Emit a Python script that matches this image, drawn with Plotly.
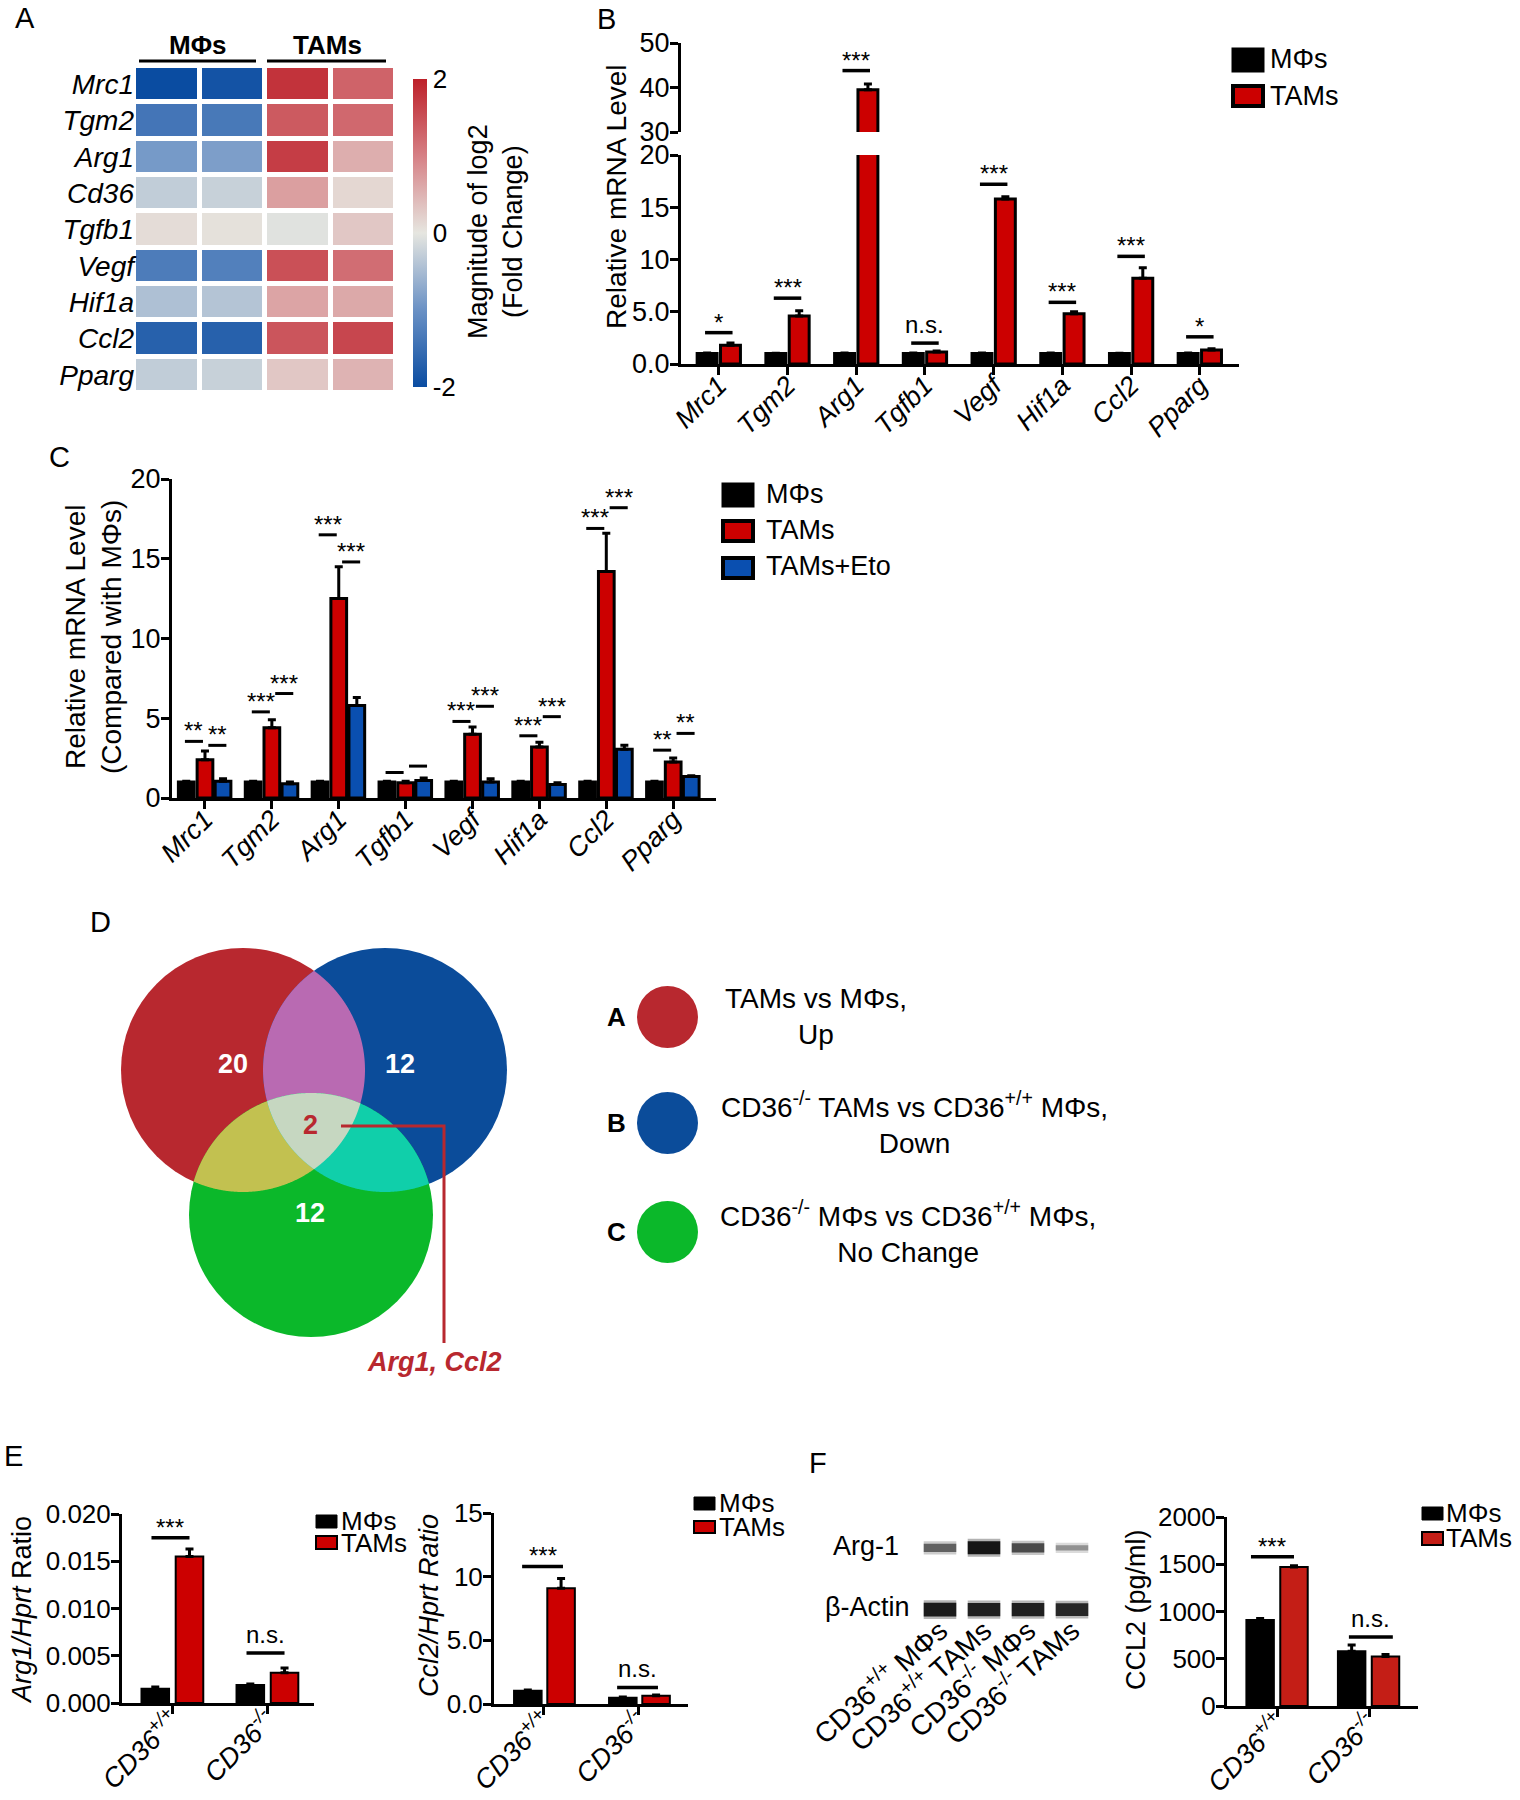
import numpy as np
import plotly.graph_objects as go

W, H = 1520, 1800
FONT = "Liberation Sans, Arial, Helvetica, sans-serif"

# ------------------------------------------------------------------ data
# A: heatmap (log2 fold change)
heat_genes = ["Mrc1", "Tgm2", "Arg1", "Cd36", "Tgfb1", "Vegf", "Hif1a", "Ccl2", "Pparg"]
heat_mphi_1 = [-2.0, -1.4, -0.9, -0.3, 0.1, -1.3, -0.45, -1.7, -0.3]
heat_mphi_2 = [-1.9, -1.35, -0.85, -0.25, 0.05, -1.25, -0.4, -1.7, -0.25]
heat_tam_1 = [1.8, 1.4, 1.7, 0.7, -0.05, 1.5, 0.65, 1.45, 0.3]
heat_tam_2 = [1.3, 1.25, 0.55, 0.15, 0.3, 1.2, 0.6, 1.6, 0.5]

# B: qPCR MΦs vs TAMs
genes_b = ["Mrc1", "Tgm2", "Arg1", "Tgfb1", "Vegf", "Hif1a", "Ccl2", "Pparg"]
b_mphi = [1.0, 1.0, 1.0, 1.0, 1.0, 1.0, 1.0, 1.0]
b_mphi_err = [0.05, 0.03, 0.05, 0.05, 0.05, 0.05, 0.03, 0.05]
b_tam = [1.8, 4.6, 39.5, 1.15, 15.8, 4.8, 8.2, 1.35]
b_tam_err = [0.2, 0.5, 1.3, 0.1, 0.2, 0.2, 1.0, 0.1]
b_sig = ["*", "***", "***", "n.s.", "***", "***", "***", "*"]
b_sig_y = [3.0, 6.3, 43.8, 2.0, 17.2, 5.9, 10.3, 2.6]

# C: qPCR with etomoxir
c_mphi = [1.0, 1.0, 1.0, 1.0, 1.0, 1.0, 1.0, 1.0]
c_mphi_err = [0.05, 0.05, 0.05, 0.05, 0.05, 0.05, 0.05, 0.05]
c_tam = [2.4, 4.4, 12.5, 0.95, 4.0, 3.2, 14.2, 2.25]
c_tam_err = [0.55, 0.5, 2.0, 0.1, 0.45, 0.3, 2.4, 0.25]
c_eto = [1.05, 0.9, 5.8, 1.1, 1.0, 0.85, 3.05, 1.35]
c_eto_err = [0.15, 0.1, 0.5, 0.15, 0.2, 0.1, 0.25, 0.05]
c_sig_mt = ["**", "***", "***", "", "***", "***", "***", "**"]
c_sig_mt_y = [3.55, 5.4, 16.5, 1.6, 4.8, 3.9, 16.9, 3.0]
c_sig_te = ["**", "***", "***", "", "***", "***", "***", "**"]
c_sig_te_y = [3.3, 6.55, 14.8, 2.0, 5.75, 5.1, 18.2, 4.05]

# D: Venn
venn_sets = ["A", "B", "C"]
venn_desc = ["TAMs vs MΦs,<br>Up",
             "CD36<sup>-/-</sup> TAMs vs CD36<sup>+/+</sup> MΦs,<br>Down",
             "CD36<sup>-/-</sup> MΦs vs CD36<sup>+/+</sup> MΦs,<br>No Change"]
venn_only_counts = [20, 12, 12]
venn_all_count = 2
venn_all_genes = "Arg1, Ccl2"

# E
e_groups = ["CD36<sup>+/+</sup>", "CD36<sup>-/-</sup>"]
e_arg1_mphi = [0.0015, 0.0019]
e_arg1_mphi_err = [0.0002, 0.0001]
e_arg1_tam = [0.0155, 0.0032]
e_arg1_tam_err = [0.0008, 0.0005]
e_arg1_sig = ["***", "n.s."]
e_arg1_sig_y = [0.0175, 0.0053]
e_ccl2_mphi = [1.05, 0.5]
e_ccl2_mphi_err = [0.05, 0.05]
e_ccl2_tam = [9.1, 0.65]
e_ccl2_tam_err = [0.75, 0.05]
e_ccl2_sig = ["***", "n.s."]
e_ccl2_sig_y = [10.8, 1.3]

# F
blot_lanes = ["CD36<sup>+/+</sup> MΦs", "CD36<sup>+/+</sup> TAMs",
              "CD36<sup>-/-</sup> MΦs", "CD36<sup>-/-</sup> TAMs"]
blot_arg1 = [0.45, 1.0, 0.6, 0.15]
blot_actin = [0.95, 0.9, 0.9, 0.85]
f_ccl2_mphi = [910, 580]
f_ccl2_mphi_err = [15, 65]
f_ccl2_tam = [1470, 525]
f_ccl2_tam_err = [15, 20]
f_sig = ["***", "n.s."]
f_sig_y = [1580, 730]

# ------------------------------------------------------------------ helpers
def X(px):
    return px / W


def Y(py):
    return 1 - py / H


fig = go.Figure()
shapes = []
annotations = []


def ann(text, x, y, size=26, xanchor="center", yanchor="middle", angle=0,
        color="black", **kw):
    d = dict(text=text, x=X(x), y=Y(y), xref="paper", yref="paper", showarrow=False,
             xanchor=xanchor, yanchor=yanchor, textangle=angle,
             font=dict(size=size, color=color, family=FONT))
    d.update(kw)
    annotations.append(d)


def rect_px(x0, y0, x1, y1, fill, lw=0, lc="black"):
    shapes.append(dict(type="rect", xref="paper", yref="paper",
                       x0=X(x0), x1=X(x1), y0=Y(y1), y1=Y(y0),
                       fillcolor=fill, line=dict(width=lw, color=lc)))


def line_px(x0, y0, x1, y1, color="black", width=3):
    shapes.append(dict(type="line", xref="paper", yref="paper",
                       x0=X(x0), x1=X(x1), y0=Y(y0), y1=Y(y1),
                       line=dict(color=color, width=width)))


def sig(xref, yref, x0, x1, y, text, size=24, lw=3.5):
    shapes.append(dict(type="line", xref=xref, yref=yref, x0=x0, x1=x1, y0=y, y1=y,
                       line=dict(color="black", width=lw)))
    if text:
        annotations.append(dict(xref=xref, yref=yref, x=(x0 + x1) / 2, y=y, text=text,
                                showarrow=False, xanchor="center", yanchor="bottom",
                                yshift=(-5 if "*" in text else 3),
                                font=dict(size=size, family=FONT, color="black")))


def yax(dom_px, rng, tickvals, ticktext, anchor, size=26):
    return dict(domain=[Y(dom_px[0]), Y(dom_px[1])], range=rng, tickvals=tickvals,
                ticktext=ticktext, showline=True, linewidth=3, linecolor="black",
                ticks="outside", ticklen=8, tickwidth=3, tickcolor="black",
                ticklabelstandoff=-5,
                showgrid=False, zeroline=False, anchor=anchor, automargin=False,
                tickfont=dict(size=size, family=FONT, color="black"))


def xax(dom_px, rng, ticktext, anchor, size=26, angle=-45, standoff=-16):
    return dict(domain=[X(dom_px[0]), X(dom_px[1])], range=rng,
                tickvals=list(range(len(ticktext))), ticktext=ticktext,
                tickangle=angle, showline=True, linewidth=3, linecolor="black",
                ticks="outside", ticklen=8, tickwidth=3, tickcolor="black",
                ticklabelstandoff=standoff,
                showgrid=False, zeroline=False, anchor=anchor, automargin=False,
                tickfont=dict(size=size, family=FONT, color="black"))


def bars(xa, ya, vals, errs, offset, width, color, lw=3, name=""):
    n = len(vals)
    fig.add_trace(go.Bar(
        x=[i + offset for i in range(n)], y=vals, width=width, name=name,
        marker=dict(color=color, line=dict(color="black", width=lw)),
        error_y=dict(type="data", array=errs, arrayminus=[0] * n, symmetric=False,
                     color="black", thickness=3, width=4),
        xaxis=xa, yaxis=ya, showlegend=False))


RED = "#cc0000"
BLUE = "#0a4fb0"

layout_axes = {}

# ------------------------------------------------------------------ A heatmap
z = np.array([heat_mphi_1, heat_mphi_2, heat_tam_1, heat_tam_2]).T
cscale = [[0.0, "#0a4ca1"], [0.25, "#6a91c5"], [0.5, "#e6e6e0"],
          [0.75, "#d68085"], [1.0, "#bd2029"]]
fig.add_trace(go.Heatmap(
    z=z, x=[0, 1, 2, 3], y=heat_genes, zmin=-2, zmax=2, colorscale=cscale,
    xgap=5, ygap=5, xaxis="x", yaxis="y",
    colorbar=dict(x=X(413), xanchor="left", xpad=0, thickness=14,
                  len=308, lenmode="pixels", y=Y(233), yanchor="middle", ypad=0,
                  outlinewidth=0, tickvals=[-2, 0, 2], ticktext=["-2", "0", "2"],
                  ticks="", tickfont=dict(size=26, family=FONT, color="black"))))
layout_axes["xaxis"] = dict(domain=[X(134), X(396)], range=[-0.5, 3.5], ticks="",
                            showticklabels=False, showgrid=False, zeroline=False,
                            anchor="y", automargin=False)
layout_axes["yaxis"] = dict(domain=[Y(393), Y(66)], autorange="reversed",
                            tickvals=heat_genes,
                            ticktext=[f"<i>{g}</i>" for g in heat_genes],
                            ticks="", showgrid=False, zeroline=False, anchor="x",
                            automargin=False, ticklabelstandoff=-1,
                            tickfont=dict(size=28, family=FONT, color="black"))
line_px(139, 61, 256, 61, width=3)
line_px(267, 61, 386, 61, width=3)
ann("<b>MΦs</b>", 198, 45, size=26)
ann("<b>TAMs</b>", 327, 45, size=26)
ann("Magnitude of log2<br>(Fold Change)", 496, 232, size=27, angle=-90)
ann("A", 25, 18, size=29)

# ------------------------------------------------------------------ B
n = len(genes_b)
for ya in ["y2", "y3"]:
    bars("x2", ya, b_mphi, b_mphi_err, -0.17, 0.29, "black")
    bars("x2", ya, b_tam, b_tam_err, 0.17, 0.29, RED)
layout_axes["xaxis2"] = xax((681, 1239), [-0.55, 7.57],
                            [f"<i>{g}</i>" for g in genes_b], "y2", size=27)
layout_axes["yaxis2"] = yax((364, 155), [0, 20], [0, 5, 10, 15, 20],
                            ["0.0", "5.0", "10", "15", "20"], "x2", size=27)
layout_axes["yaxis3"] = yax((132, 43), [30, 50], [30, 40, 50],
                            ["30", "40", "50"], "x2", size=27)
for i in range(n):
    ya = "y3" if b_sig_y[i] > 20 else "y2"
    sig("x2", ya, i - 0.2, i + 0.2, b_sig_y[i], b_sig[i])
ann("Relative mRNA Level", 616, 197, size=28, angle=-90)
ann("B", 606, 19, size=29)
rect_px(1233, 49, 1263, 71, "black", 3)
rect_px(1233, 86, 1263, 106, RED, 4)
ann("MΦs", 1268, 59, size=27, xanchor="left")
ann("TAMs", 1268, 96, size=27, xanchor="left")

# ------------------------------------------------------------------ C
bars("x3", "y4", c_mphi, c_mphi_err, -0.28, 0.235, "black")
bars("x3", "y4", c_tam, c_tam_err, 0.0, 0.235, RED)
bars("x3", "y4", c_eto, c_eto_err, 0.27, 0.235, BLUE)
layout_axes["xaxis3"] = xax((172, 716), [-0.493, 7.64],
                            [f"<i>{g}</i>" for g in genes_b], "y4", size=27)
layout_axes["yaxis4"] = yax((798, 479), [0, 20], [0, 5, 10, 15, 20],
                            ["0", "5", "10", "15", "20"], "x3", size=27)
for i in range(n):
    sig("x3", "y4", i - 0.3, i - 0.03, c_sig_mt_y[i], c_sig_mt[i], size=24, lw=3)
    sig("x3", "y4", i + 0.05, i + 0.32, c_sig_te_y[i], c_sig_te[i], size=24, lw=3)
ann("Relative mRNA Level<br>(Compared with MΦs)", 93, 637, size=28, angle=-90)
ann("C", 59, 457, size=29)
rect_px(723, 484, 753, 506, "black", 3)
rect_px(723, 521, 753, 541, RED, 4)
rect_px(723, 558, 753, 578, BLUE, 4)
ann("MΦs", 764, 494, size=27, xanchor="left")
ann("TAMs", 764, 530, size=27, xanchor="left")
ann("TAMs+Eto", 764, 566, size=27, xanchor="left")

# ------------------------------------------------------------------ D Venn
venn_circles = [(243, 1070, 122), (385, 1070, 122), (311, 1215, 122)]
venn_fill = ["#b8282f", "#0b4c9a", "#0bb82a"]
pair_fill = {(0, 1): "#b96ab2", (0, 2): "#c2c150", (1, 2): "#10cfaa"}
triple_fill = "#c6d7c1"


def region_path(circ):
    pts = []
    for k, (cx, cy, r) in enumerate(circ):
        t = np.linspace(0, 2 * np.pi, 1440, endpoint=False)
        xs, ys = cx + r * np.cos(t), cy + r * np.sin(t)
        mask = np.ones_like(xs, dtype=bool)
        for j, (ox, oy, orr) in enumerate(circ):
            if j != k:
                mask &= (xs - ox) ** 2 + (ys - oy) ** 2 <= orr ** 2 + 1e-6
        pts.append(np.c_[xs[mask], ys[mask]])
    P = np.vstack(pts)
    c = P.mean(axis=0)
    P = P[np.argsort(np.arctan2(P[:, 1] - c[1], P[:, 0] - c[0]))]
    return "M " + " L ".join(f"{X(px):.5f},{Y(py):.5f}" for px, py in P) + " Z"


for (cx, cy, r), col in zip(venn_circles, venn_fill):
    shapes.append(dict(type="circle", xref="paper", yref="paper",
                       x0=X(cx - r), x1=X(cx + r), y0=Y(cy + r), y1=Y(cy - r),
                       fillcolor=col, line=dict(width=0)))
for (a, b), col in pair_fill.items():
    shapes.append(dict(type="path", xref="paper", yref="paper",
                       path=region_path([venn_circles[a], venn_circles[b]]),
                       fillcolor=col, line=dict(width=0)))
shapes.append(dict(type="path", xref="paper", yref="paper",
                   path=region_path(venn_circles), fillcolor=triple_fill,
                   line=dict(width=0)))
ann(f"<b>{venn_only_counts[0]}</b>", 233, 1064, size=27, color="white")
ann(f"<b>{venn_only_counts[1]}</b>", 400, 1064, size=27, color="white")
ann(f"<b>{venn_only_counts[2]}</b>", 310, 1213, size=27, color="white")
ann(f"<b>{venn_all_count}</b>", 310, 1125, size=27, color="#b8282f")
shapes.append(dict(type="path", xref="paper", yref="paper",
                   path=f"M {X(341)},{Y(1126)} L {X(444)},{Y(1126)} L {X(444)},{Y(1343)}",
                   line=dict(color="#b8282f", width=3)))
ann(f"<b><i>{venn_all_genes}</i></b>", 435, 1362, size=27, color="#b8282f")
ann("D", 100, 922, size=29)
leg_y = [1017, 1123, 1232]
leg_x = [816, 914, 908]
for k in range(3):
    shapes.append(dict(type="circle", xref="paper", yref="paper",
                       x0=X(637), x1=X(698), y0=Y(leg_y[k] + 31), y1=Y(leg_y[k] - 31),
                       fillcolor=venn_fill[k], line=dict(width=0)))
    ann(f"<b>{venn_sets[k]}</b>", 616, leg_y[k], size=26)
    ann(venn_desc[k], leg_x[k], leg_y[k], size=28, align="center")

# ------------------------------------------------------------------ E
bars("x4", "y5", e_arg1_mphi, e_arg1_mphi_err, -0.18, 0.29, "black", lw=2)
bars("x4", "y5", e_arg1_tam, e_arg1_tam_err, 0.18, 0.29, RED, lw=2)
layout_axes["xaxis4"] = xax((122, 314), [-0.53, 1.49],
                            [f"<i>{g}</i>" for g in e_groups], "y5", size=27,
                            standoff=-20)
layout_axes["yaxis5"] = yax((1703, 1514), [0, 0.02],
                            [0, 0.005, 0.01, 0.015, 0.02],
                            ["0.000", "0.005", "0.010", "0.015", "0.020"], "x4", size=26)
for i in range(2):
    sig("x4", "y5", i - 0.22, i + 0.18, e_arg1_sig_y[i], e_arg1_sig[i])
ann("<i>Arg1/Hprt</i> Ratio", 22, 1610, size=27, angle=-90)
rect_px(316, 1515, 337, 1528, "black", 1)
rect_px(316, 1536, 337, 1549, RED, 2)
ann("MΦs", 339, 1521, size=26, xanchor="left")
ann("TAMs", 339, 1543, size=26, xanchor="left")
ann("E", 14, 1456, size=29)

bars("x5", "y6", e_ccl2_mphi, e_ccl2_mphi_err, -0.17, 0.29, "black", lw=2)
bars("x5", "y6", e_ccl2_tam, e_ccl2_tam_err, 0.18, 0.29, RED, lw=2)
layout_axes["xaxis5"] = xax((494, 688), [-0.526, 1.516],
                            [f"<i>{g}</i>" for g in e_groups], "y6", size=27,
                            standoff=-20)
layout_axes["yaxis6"] = yax((1704, 1513), [0, 15], [0, 5, 10, 15],
                            ["0.0", "5.0", "10", "15"], "x5", size=26)
for i in range(2):
    sig("x5", "y6", i - 0.23, i + 0.2, e_ccl2_sig_y[i], e_ccl2_sig[i])
ann("<i>Ccl2/Hprt Ratio</i>", 429, 1606, size=27, angle=-90)
rect_px(694, 1497, 715, 1510, "black", 1)
rect_px(694, 1521, 715, 1533, RED, 2)
ann("MΦs", 717, 1503, size=26, xanchor="left")
ann("TAMs", 717, 1527, size=26, xanchor="left")

# ------------------------------------------------------------------ F blot
for k in range(4):
    for row, inten, base in [(1, blot_arg1[k], 4), (0, blot_actin[k], 5)]:
        core = base + 9 * inten
        for wd, a in [(core + 5, 0.12 + 0.2 * inten), (core, 0.25 + 0.72 * inten)]:
            fig.add_trace(go.Scatter(
                x=[k - 0.37, k + 0.37], y=[row, row], mode="lines",
                line=dict(color=f"rgba(15,15,15,{a:.2f})", width=wd),
                xaxis="x6", yaxis="y7", showlegend=False, hoverinfo="skip"))
layout_axes["xaxis6"] = dict(domain=[X(918), X(1094)], range=[-0.5, 3.5],
                             tickvals=[0, 1, 2, 3], ticktext=blot_lanes, tickangle=-42,
                             ticks="", showline=False, showgrid=False, zeroline=False,
                             anchor="y7", automargin=False, ticklabelstandoff=-14,
                             tickfont=dict(size=28, family=FONT, color="black"))
layout_axes["yaxis7"] = dict(domain=[Y(1622), Y(1525)], range=[-0.2, 1.37],
                             showticklabels=False, showgrid=False, zeroline=False,
                             showline=False, anchor="x6", automargin=False)
ann("Arg-1", 901, 1546, size=27, xanchor="right")
ann("β-Actin", 912, 1607, size=27, xanchor="right")
ann("F", 818, 1463, size=29)

# F bar
FRED = "#c41e16"
bars("x7", "y8", f_ccl2_mphi, f_ccl2_mphi_err, -0.19, 0.3, "black", lw=2)
bars("x7", "y8", f_ccl2_tam, f_ccl2_tam_err, 0.18, 0.3, FRED, lw=2)
layout_axes["xaxis7"] = xax((1227, 1418), [-0.552, 1.535],
                            [f"<i>{g}</i>" for g in e_groups], "y8", size=27,
                            standoff=-20)
layout_axes["yaxis8"] = yax((1706, 1517), [0, 2000], [0, 500, 1000, 1500, 2000],
                            ["0", "500", "1000", "1500", "2000"], "x7", size=26)
sig("x7", "y8", -0.29, 0.18, f_sig_y[0], f_sig[0])
sig("x7", "y8", 1 - 0.22, 1 + 0.26, f_sig_y[1], f_sig[1])
ann("CCL2 (pg/ml)", 1136, 1610, size=27, angle=-90)
rect_px(1422, 1507, 1443, 1520, "black", 1)
rect_px(1422, 1532, 1443, 1545, FRED, 2)
ann("MΦs", 1444, 1513, size=26, xanchor="left")
ann("TAMs", 1444, 1538, size=26, xanchor="left")

# ------------------------------------------------------------------ layout
fig.update_layout(template="none", width=W, height=H,
                  margin=dict(l=0, r=0, t=0, b=0, autoexpand=False),
                  paper_bgcolor="white", plot_bgcolor="white", showlegend=False,
                  barmode="overlay", font=dict(family=FONT, size=26, color="black"),
                  shapes=shapes, annotations=annotations, **layout_axes)
fig.write_html("out.html", config={"displayModeBar": False},
               post_script="document.body.style.margin='0px';"
                           "document.body.style.overflow='hidden';")
